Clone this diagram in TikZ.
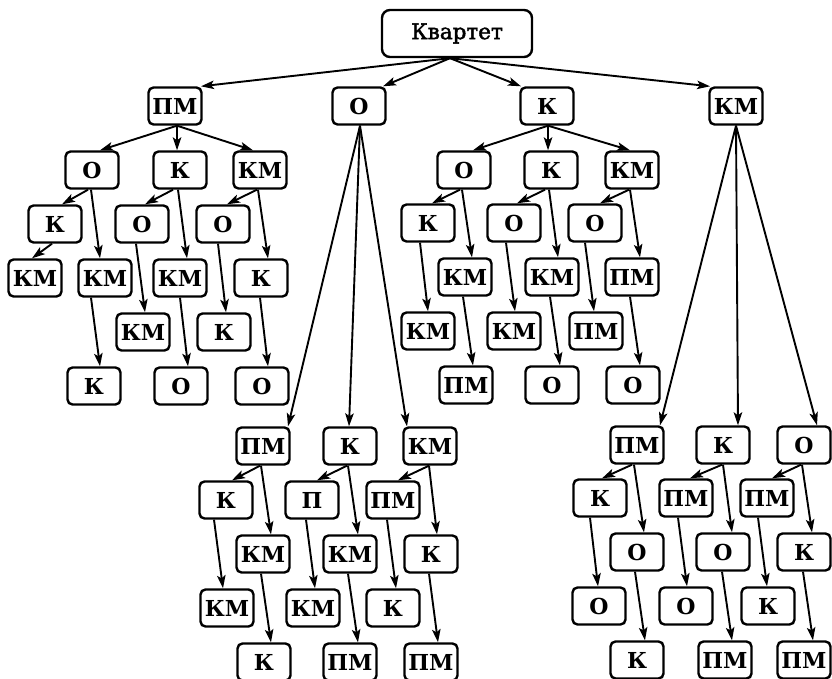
\documentclass[tikz,border=0pt]{standalone}
\usepackage{fontspec}
\setmainfont{DejaVu Serif}
\newfontfamily\rootfont{DejaVu Serif}[FakeBold=2]
\usetikzlibrary{arrows.meta}
\newcommand\conn[4]{\draw[arr] ([xshift=#2pt]#1.south) -- ([xshift=#4pt]#3.north);}
\begin{document}
\begin{tikzpicture}[x=1pt,y=-1pt,
  box/.style={draw, line width=2.4pt, rounded corners=5pt, minimum width=53pt,
    minimum height=37pt, inner sep=0pt, font=\bfseries\fontsize{22}{22}\selectfont},
  rootbox/.style={box, minimum width=150pt, minimum height=47pt, rounded corners=8pt,
    font=\rootfont\fontsize{21.5}{22}\selectfont},
  arr/.style={line width=1.9pt, -{Stealth[length=13pt,width=8.5pt,inset=3pt]}}]
\useasboundingbox (0,0) rectangle (832,679);
\node[rootbox] (root) at (457,33.5) {Квартет};
% level 1
\node[box] (p) at (175,106) {ПМ};
\node[box] (o) at (359,106) {О};
\node[box] (k) at (547,106) {К};
\node[box] (m) at (736,106) {КМ};
% PM subtree
\node[box] (pa) at (92,170) {О};
\node[box] (pb) at (180,170) {К};
\node[box] (pc) at (260,170) {КМ};
\node[box] (paa) at (55,224) {К};
\node[box] (pba) at (142,224) {О};
\node[box] (pca) at (223,224) {О};
\node[box] (paaa) at (35,278) {КМ};
\node[box] (pab) at (105,278) {КМ};
\node[box] (pbb) at (180,278) {КМ};
\node[box] (pcb) at (261,278) {К};
\node[box] (pbaa) at (143,332) {КМ};
\node[box] (pcaa) at (224,332) {К};
\node[box] (pabb) at (94,386) {К};
\node[box] (pbbb) at (181,386) {О};
\node[box] (pcbb) at (262,386) {О};
% K subtree
\node[box] (ka) at (464,170) {О};
\node[box] (kb) at (551,170) {К};
\node[box] (kc) at (632,170) {КМ};
\node[box] (kaa) at (428,223) {К};
\node[box] (kba) at (514,223) {О};
\node[box] (kca) at (595,223) {О};
\node[box] (kab) at (465,277) {КМ};
\node[box] (kbb) at (552,277) {КМ};
\node[box] (kcb) at (632,277) {ПМ};
\node[box] (kaaa) at (428,331) {КМ};
\node[box] (kbaa) at (514,331) {КМ};
\node[box] (kcaa) at (596,331) {ПМ};
\node[box] (kabb) at (466,385) {ПМ};
\node[box] (kbbb) at (552,385) {О};
\node[box] (kcbb) at (633,385) {О};
% O subtree
\node[box] (oa) at (263,446) {ПМ};
\node[box] (ob) at (350,446) {К};
\node[box] (oc) at (430,446) {КМ};
\node[box] (oaa) at (226,500) {К};
\node[box] (oba) at (312,500) {П};
\node[box] (oca) at (393,500) {ПМ};
\node[box] (oab) at (263,554) {КМ};
\node[box] (obb) at (350,554) {КМ};
\node[box] (ocb) at (431,554) {К};
\node[box] (oaaa) at (227,608) {КМ};
\node[box] (obaa) at (313,608) {КМ};
\node[box] (ocaa) at (393,608) {К};
\node[box] (oabb) at (264,662) {К};
\node[box] (obbb) at (350,662) {ПМ};
\node[box] (ocbb) at (431,662) {ПМ};
% KM subtree
\node[box] (ma) at (637,445) {ПМ};
\node[box] (mb) at (723,445) {К};
\node[box] (mc) at (804,445) {О};
\node[box] (maa) at (600,498) {К};
\node[box] (mba) at (686,498) {ПМ};
\node[box] (mca) at (767,498) {ПМ};
\node[box] (mab) at (637,552) {О};
\node[box] (mbb) at (723,552) {О};
\node[box] (mcb) at (804,552) {К};
\node[box] (maaa) at (599,606) {О};
\node[box] (mbaa) at (686,606) {О};
\node[box] (mcaa) at (768,606) {К};
\node[box] (mabb) at (637,660) {К};
\node[box] (mbbb) at (725,660) {ПМ};
\node[box] (mcbb) at (804,660) {ПМ};
% root arrows
\conn{root}{-7}{p}{26}
\conn{root}{-7}{o}{24}
\conn{root}{-7}{k}{-26}
\conn{root}{-7}{m}{-26}
% PM subtree arrows
\conn{p}{2}{pa}{8}
\conn{p}{2}{pb}{-3}
\conn{p}{2}{pc}{-7}
\conn{pa}{-4}{paa}{7}
\conn{pa}{-1}{pab}{-5}
\conn{pb}{-7}{pba}{3}
\conn{pb}{-2}{pbb}{7}
\conn{pc}{-3}{pca}{4}
\conn{pc}{-2}{pcb}{7}
\conn{paa}{-3}{paaa}{-3}
\conn{pba}{-6}{pbaa}{2}
\conn{pca}{-5}{pcaa}{2}
\conn{pab}{-14}{pabb}{6}
\conn{pbb}{0}{pbbb}{7}
\conn{pcb}{-1}{pcbb}{6}
% K subtree arrows
\conn{k}{1}{ka}{9}
\conn{k}{1}{kb}{-3}
\conn{k}{1}{kc}{-2}
\conn{ka}{-4}{kaa}{4}
\conn{ka}{-2}{kab}{7}
\conn{kb}{-6}{kba}{3}
\conn{kb}{-2}{kbb}{6}
\conn{kc}{-3}{kca}{5}
\conn{kc}{-2}{kcb}{8}
\conn{kaa}{-8}{kaaa}{0}
\conn{kba}{-8}{kbaa}{1}
\conn{kca}{-10}{kcaa}{-2}
\conn{kab}{-2}{kabb}{7}
\conn{kbb}{-2}{kbbb}{8}
\conn{kcb}{-2}{kcbb}{7}
% O subtree arrows
\conn{o}{1}{oa}{25}
\conn{o}{1}{ob}{-1}
\conn{o}{1}{oc}{-23}
\conn{oa}{-3}{oaa}{6}
\conn{oa}{-2}{oab}{8}
\conn{ob}{-3}{oba}{5}
\conn{ob}{-2}{obb}{8}
\conn{oc}{-1}{oca}{5}
\conn{oc}{-1}{ocb}{6}
\conn{oaa}{-12}{oaaa}{-4}
\conn{oba}{-6}{obaa}{2}
\conn{oca}{-6}{ocaa}{3}
\conn{oab}{-2}{oabb}{7}
\conn{obb}{-2}{obbb}{8}
\conn{ocb}{-2}{ocbb}{7}
% KM subtree arrows
\conn{m}{0}{ma}{23}
\conn{m}{0}{mb}{15}
\conn{m}{0}{mc}{13}
\conn{ma}{-5}{maa}{2}
\conn{ma}{-3}{mab}{7}
\conn{mb}{-1}{mba}{4}
\conn{mb}{0}{mbb}{9}
\conn{mc}{-3}{mca}{5}
\conn{mc}{-2}{mcb}{8}
\conn{maa}{-10}{maaa}{-1}
\conn{mba}{-8}{mbaa}{1}
\conn{mca}{-9}{mcaa}{-1}
\conn{mab}{-2}{mabb}{8}
\conn{mbb}{-1}{mbbb}{7}
\conn{mcb}{-1}{mcbb}{9}
\end{tikzpicture}
\end{document}
